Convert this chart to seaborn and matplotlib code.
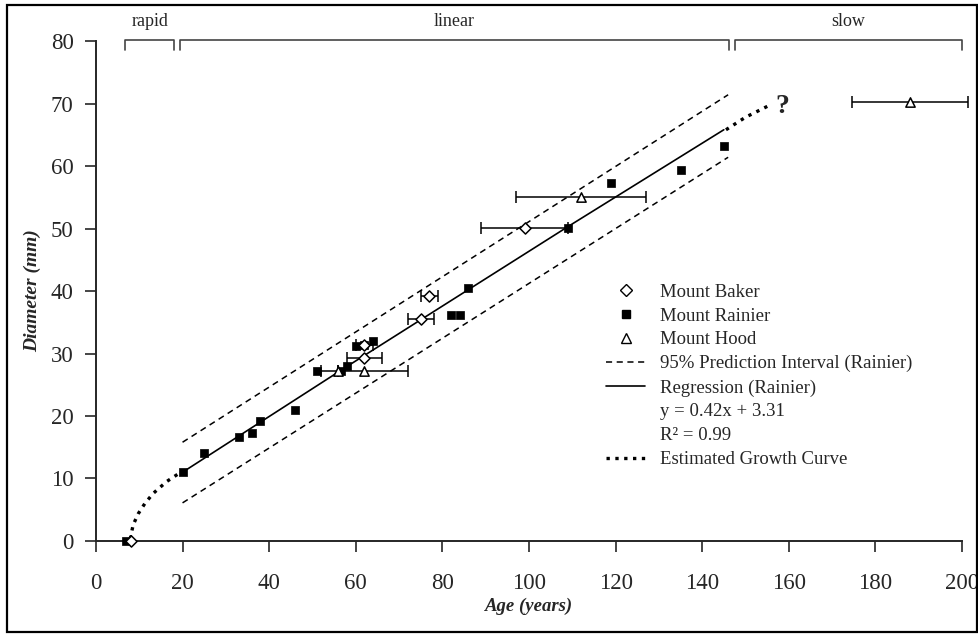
import numpy as np
import pandas as pd
import matplotlib
matplotlib.use("Agg")
import matplotlib.pyplot as plt
import seaborn as sns
from matplotlib.lines import Line2D
from matplotlib.patches import Rectangle

# data
rainier_age = [7, 20, 25, 33, 36, 38, 46, 51, 56.5, 58, 60, 62, 64, 82, 84, 86, 109, 119, 135, 145]
rainier_diam = [0, 11.1, 14.1, 16.7, 17.2, 19.2, 21.0, 27.2, 27.2, 28.0, 31.2, 31.4, 32.0, 36.2, 36.2, 40.5, 50.1, 57.3, 59.4, 63.2]

baker_age = [8, 62, 62, 75, 77, 99]
baker_diam = [0, 29.3, 31.4, 35.6, 39.2, 50.1]
baker_err = [0, 4, 2, 3, 2, 10]

hood_age = [56, 62, 112, 188]
hood_diam = [27.2, 27.2, 55.1, 70.2]
hood_err = [0, 10, 15, 13.3]

reg_age = [20, 57, 109, 145]
reg_diam = [11.0, 27.5, 50.3, 65.8]

pi_age = [20, 146]
pi_upper = [15.8, 71.4]
pi_lower = [6.1, 61.4]

growth_lo_age = [7.9, 8.6, 9.8, 11.3, 13.2, 16.3, 19.8]
growth_lo_diam = [0.3, 2.6, 4.4, 6.0, 7.6, 9.5, 11.1]
growth_hi_age = [145.5, 150, 155.5]
growth_hi_diam = [65.8, 67.8, 69.7]

phase_names = ["rapid", "linear", "slow"]
phase_start = [6.7, 19.4, 147.6]
phase_end = [18.1, 146.2, 200]

sns.set_style("ticks")
plt.rcParams['font.family'] = ['Liberation Serif', 'DejaVu Serif']

fig = plt.figure(figsize=(9.79, 6.34), dpi=100)
ax = fig.add_axes([0.098, 0.1467, 0.8846, 0.7886])

# frame round the whole figure
fig.patches.append(Rectangle((7/979, 2/634), 970/979, 627/634, transform=fig.transFigure,
                             fill=False, edgecolor='black', linewidth=1.6))

# prediction interval, regression, growth curve
sns.lineplot(x=pi_age, y=pi_upper, color='black', linewidth=1.1, ax=ax)
ax.lines[-1].set_dashes((4, 3))
sns.lineplot(x=pi_age, y=pi_lower, color='black', linewidth=1.1, ax=ax)
ax.lines[-1].set_dashes((4, 3))
sns.lineplot(x=reg_age, y=reg_diam, color='black', linewidth=1.2, ax=ax)
ax.plot(growth_lo_age, growth_lo_diam, color='black', linestyle=':', linewidth=2.4)
ax.plot(growth_hi_age, growth_hi_diam, color='black', linestyle=':', linewidth=2.4)
ax.text(158.5, 69.5, "?", fontsize=20, fontweight='bold', va='center', ha='center')

# error bars
ax.errorbar(baker_age, baker_diam, xerr=baker_err, fmt='none', ecolor='black',
            elinewidth=1.1, capsize=4.5, capthick=1.1, clip_on=False)
ax.errorbar(hood_age, hood_diam, xerr=hood_err, fmt='none', ecolor='black',
            elinewidth=1.1, capsize=4.5, capthick=1.1, clip_on=False)

# points
sns.scatterplot(x=rainier_age, y=rainier_diam, marker='s', color='black', s=28,
                edgecolor='black', linewidth=0.5, ax=ax, zorder=3, clip_on=False)
sns.scatterplot(x=baker_age, y=baker_diam, marker='D', facecolor='white', s=32,
                edgecolor='black', linewidth=1.1, ax=ax, zorder=4, clip_on=False)
sns.scatterplot(x=hood_age, y=hood_diam, marker='^', facecolor='white', s=45,
                edgecolor='black', linewidth=1.1, ax=ax, zorder=4, clip_on=False)

# growth phase brackets above the plot
for name, a, b in zip(phase_names, phase_start, phase_end):
    ax.plot([a, a, b, b], [78.6, 80.2, 80.2, 78.6], color='#444444', linewidth=1.2, clip_on=False)
    ax.text((a + b) / 2, 83.2, name, fontsize=13, ha='center', va='center')

ax.set_xlim(0, 200)
ax.set_ylim(0, 80)
ax.set_xticks(range(0, 201, 20))
ax.set_yticks(range(0, 81, 10))
ax.tick_params(axis='both', direction='out', length=8, width=1.2, labelsize=16.5)
ax.tick_params(axis='x', pad=15)
ax.tick_params(axis='y', pad=8)
for side in ['left', 'bottom']:
    ax.spines[side].set_linewidth(1.4)
sns.despine(ax=ax)

ax.set_xlabel("Age (years)", fontsize=13.5, fontweight='bold', fontstyle='italic', labelpad=3)
ax.set_ylabel("Diameter (mm)", fontsize=14, fontweight='bold', fontstyle='italic', labelpad=7)

handles = [
    Line2D([], [], marker='D', linestyle='none', markerfacecolor='white', markeredgecolor='black', markersize=6),
    Line2D([], [], marker='s', linestyle='none', color='black', markersize=5.5),
    Line2D([], [], marker='^', linestyle='none', markerfacecolor='white', markeredgecolor='black', markersize=7),
    Line2D([], [], color='black', linestyle=(0, (4, 3)), linewidth=1.1),
    Line2D([], [], color='black', linewidth=1.2),
    Line2D([], [], linestyle='none'),
    Line2D([], [], linestyle='none'),
    Line2D([], [], color='black', linestyle=':', linewidth=2.4),
]
labels = ["Mount Baker", "Mount Rainier", "Mount Hood", "95% Prediction Interval (Rainier)",
          "Regression (Rainier)", "y = 0.42x + 3.31", "R\u00b2 = 0.99", "Estimated Growth Curve"]
ax.legend(handles, labels, loc='upper left', bbox_to_anchor=(0.589, 0.515), frameon=False,
          fontsize=13.5, labelspacing=0.36, handlelength=2.1, handletextpad=0.8,
          borderpad=0, borderaxespad=0)

plt.savefig("out.png", dpi=100)
